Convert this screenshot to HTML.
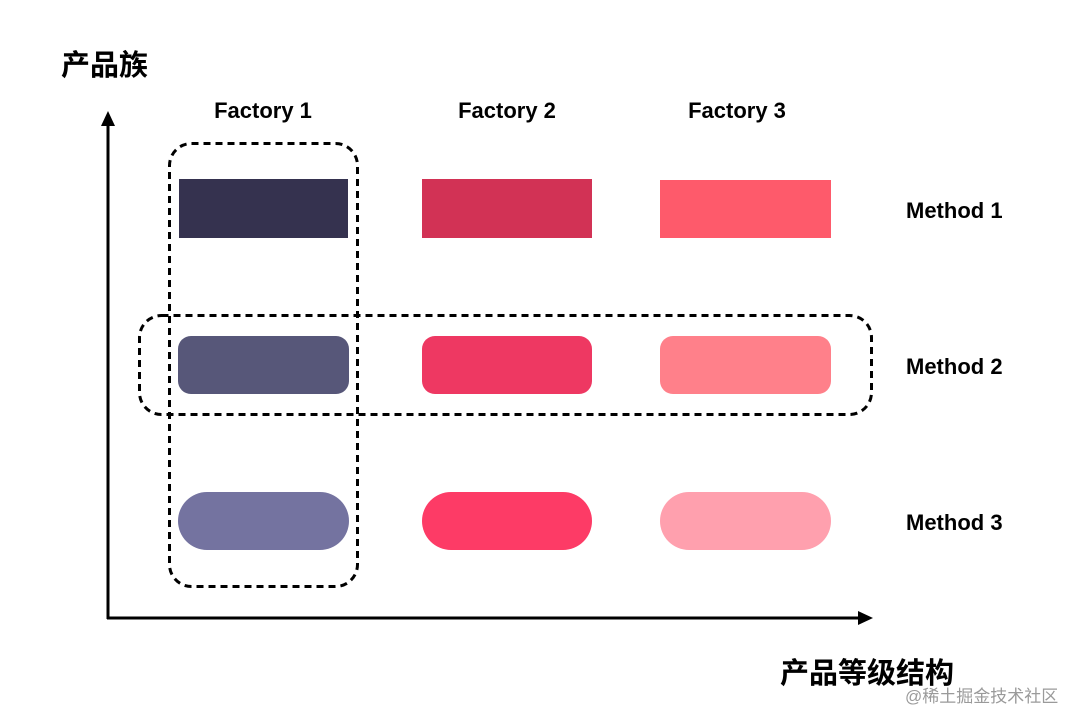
<!DOCTYPE html>
<html><head><meta charset="utf-8"><style>
html,body{margin:0;padding:0;background:#fff;}
svg{display:block;}
</style></head><body>
<svg width="1088" height="727" viewBox="0 0 1088 727" xmlns="http://www.w3.org/2000/svg">
<rect width="1088" height="727" fill="#fff"/>
<!-- axes -->
<line x1="108" y1="619" x2="108" y2="124" stroke="#000" stroke-width="3"/>
<polygon points="108,111 101,126 115,126" fill="#000"/>
<line x1="107" y1="618" x2="860" y2="618" stroke="#000" stroke-width="3"/>
<polygon points="873,618 858,611 858,625" fill="#000"/>
<!-- boxes -->
<rect x="179" y="179" width="169" height="59" fill="#35324f"/>
<rect x="422" y="179" width="170" height="59" fill="#d23255"/>
<rect x="660" y="180" width="171" height="58" fill="#fe5a6b"/>
<rect x="178" y="336" width="171" height="58" rx="13" fill="#575779"/>
<rect x="422" y="336" width="170" height="58" rx="13" fill="#ee3862"/>
<rect x="660" y="336" width="171" height="58" rx="13" fill="#ff808a"/>
<rect x="178" y="492" width="171" height="58" rx="29" fill="#7473a0"/>
<rect x="422" y="492" width="170" height="58" rx="29" fill="#fd3b66"/>
<rect x="660" y="492" width="171" height="58" rx="29" fill="#ffa0ae"/>
<!-- dashed groups -->
<rect x="169.5" y="143.5" width="188" height="443" rx="22" fill="none" stroke="#000" stroke-width="3" stroke-dasharray="7,5"/>
<rect x="139.5" y="315.5" width="732" height="99" rx="22" fill="none" stroke="#000" stroke-width="3" stroke-dasharray="7,5"/>
<!-- labels -->
<g font-family="Liberation Sans, Arial, sans-serif" font-weight="bold" font-size="22" fill="#000">
<text x="263" y="118" text-anchor="middle">Factory 1</text>
<text x="507" y="118" text-anchor="middle">Factory 2</text>
<text x="737" y="118" text-anchor="middle">Factory 3</text>
<text x="906" y="218">Method 1</text>
<text x="906" y="374">Method 2</text>
<text x="906" y="530">Method 3</text>
</g>
<g font-family="Liberation Sans, 'Noto Sans CJK SC', sans-serif" font-weight="bold" font-size="29" fill="#000">
<text x="61" y="75">产品族</text>
<text x="780" y="683">产品等级结构</text>
</g>
<text x="905" y="702" font-family="Liberation Sans, 'Noto Sans CJK SC', sans-serif" font-size="17" fill="#9a9a9a">@稀土掘金技术社区</text>
</svg>
</body></html>
